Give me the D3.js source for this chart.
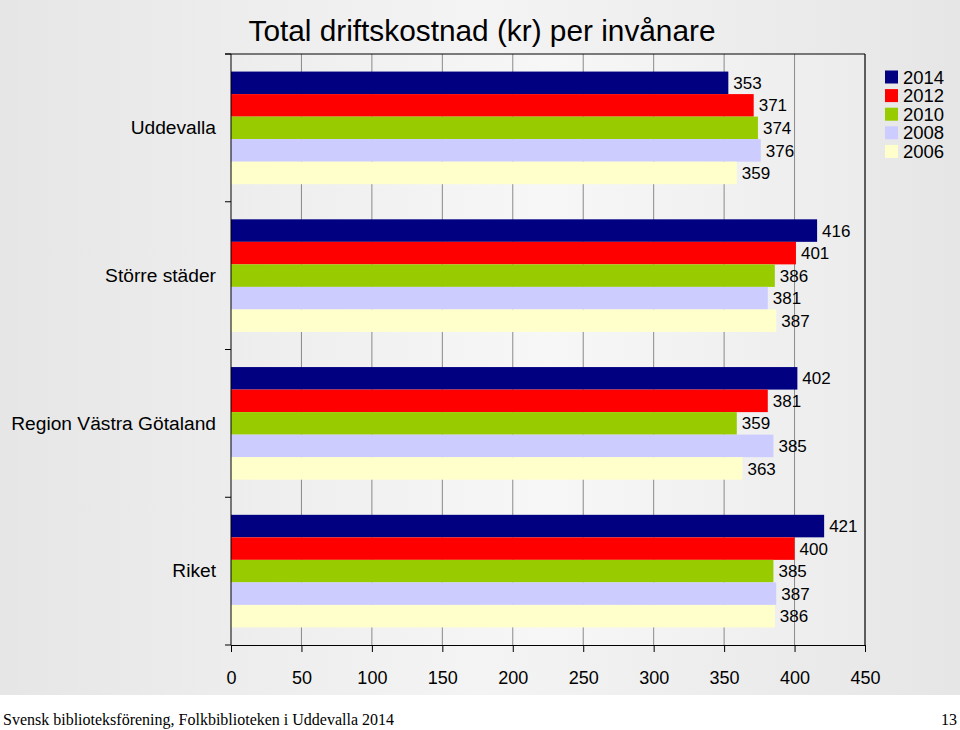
<!DOCTYPE html>
<html><head><meta charset="utf-8">
<script src="https://cdn.jsdelivr.net/npm/d3@7/dist/d3.min.js"></script>
<style>body{margin:0;background:#fff}svg{display:block}</style>
</head><body>
<svg id="c" width="960" height="730"></svg>
<script>
const categories = ["Uddevalla", "Större städer", "Region Västra Götaland", "Riket"];
const years = ["2014", "2012", "2010", "2008", "2006"];
const colors = ["#000080", "#ff0000", "#99cc00", "#ccccff", "#ffffcc"];
const v2014 = [353, 416, 402, 421];
const v2012 = [371, 401, 381, 400];
const v2010 = [374, 386, 359, 385];
const v2008 = [376, 381, 385, 387];
const v2006 = [359, 387, 363, 386];
const xTicks = [0, 50, 100, 150, 200, 250, 300, 350, 400, 450];
const title = "Total driftskostnad (kr) per invånare";
const footerLeft = "Svensk biblioteksförening, Folkbiblioteken i Uddevalla 2014";
const footerRight = "13";

const series = [v2014, v2012, v2010, v2008, v2006];
const svg = d3.select("#c");
const defs = svg.append("defs");
const bg = defs.append("linearGradient").attr("id", "bg").attr("x1", 0).attr("x2", 1).attr("y1", 0).attr("y2", 0);
bg.append("stop").attr("offset", "0%").attr("stop-color", "#e6e6e6");
bg.append("stop").attr("offset", "50%").attr("stop-color", "#f4f4f4");
bg.append("stop").attr("offset", "100%").attr("stop-color", "#e6e6e6");
const pg = defs.append("linearGradient").attr("id", "pg").attr("x1", 0).attr("x2", 1).attr("y1", 0).attr("y2", 0);
pg.append("stop").attr("offset", "0%").attr("stop-color", "#ededed");
pg.append("stop").attr("offset", "50%").attr("stop-color", "#f7f7f7");
pg.append("stop").attr("offset", "100%").attr("stop-color", "#ececec");

svg.append("rect").attr("x", 0).attr("y", 0).attr("width", 960).attr("height", 695).attr("fill", "url(#bg)");

const L = 231, R = 865, T = 54, B = 645;
const x = d3.scaleLinear().domain([0, 450]).range([L, R]);
const y0 = d3.scaleBand().domain(categories).range([T, B]).paddingInner(0).paddingOuter(0);
const y1 = d3.scaleBand().domain(years).range([0, y0.bandwidth()]).paddingInner(0).paddingOuter(0.78);

svg.append("rect").attr("x", L).attr("y", T).attr("width", R - L).attr("height", B - T).attr("fill", "url(#pg)");

// gridlines
svg.append("g").selectAll("line").data(xTicks.slice(1)).join("line")
  .attr("x1", d => x(d)).attr("x2", d => x(d)).attr("y1", T).attr("y2", B)
  .attr("stroke", "#8a8a8a").attr("stroke-width", 1);

// bars
const g = svg.append("g");
categories.forEach((c, ci) => {
  years.forEach((yr, si) => {
    const val = series[si][ci];
    g.append("rect").attr("x", x(0)).attr("y", y0(c) + y1(yr))
      .attr("width", x(val) - x(0)).attr("height", y1.bandwidth())
      .attr("fill", colors[si]);
    g.append("text").attr("x", x(val) + 5).attr("y", y0(c) + y1(yr) + y1.bandwidth() / 2)
      .attr("dy", "0.36em").attr("font-family", "Liberation Sans, Arial, sans-serif")
      .attr("font-size", 17).attr("fill", "#000").text(val);
  });
});

// plot border top/right
svg.append("line").attr("x1", L - 6).attr("x2", R).attr("y1", T).attr("y2", T).attr("stroke", "#000");
svg.append("line").attr("x1", R).attr("x2", R).attr("y1", T).attr("y2", B).attr("stroke", "#000");

// x axis
const xa = svg.append("g").attr("transform", `translate(0,${B})`)
  .call(d3.axisBottom(x).tickValues(xTicks).tickSize(7).tickSizeOuter(0).tickPadding(19));
xa.select(".domain").attr("stroke", "#000");
xa.selectAll(".tick line").attr("stroke", "#000");
xa.selectAll("text").attr("font-family", "Liberation Sans, Arial, sans-serif").attr("font-size", 18).attr("fill", "#000");

// y axis
const ya = svg.append("g").attr("transform", `translate(${L},0)`)
  .call(d3.axisLeft(y0).tickSize(0).tickPadding(15));
ya.select(".domain").attr("stroke", "#000").attr("d", `M0,${T}V${B}`);
ya.selectAll("text").attr("font-family", "Liberation Sans, Arial, sans-serif").attr("font-size", 19.2).attr("fill", "#000");
// category boundary ticks
const bounds = categories.map(c => y0(c)).concat([B]);
svg.append("g").selectAll("line").data(bounds).join("line")
  .attr("x1", L - 6).attr("x2", L).attr("y1", d => d).attr("y2", d => d).attr("stroke", "#000");

// title
svg.append("text").attr("x", 482).attr("y", 41).attr("text-anchor", "middle")
  .attr("font-family", "Liberation Sans, Arial, sans-serif").attr("font-size", 29.8).attr("fill", "#000").text(title);

// legend
const lg = svg.append("g");
years.forEach((yr, i) => {
  const cy = 77 + i * 18.6;
  lg.append("rect").attr("x", 885).attr("y", cy - 6.5).attr("width", 13).attr("height", 13).attr("fill", colors[i]);
  lg.append("text").attr("x", 903).attr("y", cy).attr("dy", "0.36em")
    .attr("font-family", "Liberation Sans, Arial, sans-serif").attr("font-size", 18.5).attr("fill", "#000").text(yr);
});

// footer
svg.append("text").attr("x", 3).attr("y", 725).attr("font-family", "Liberation Serif, Times New Roman, serif")
  .attr("font-size", 16).attr("fill", "#000").text(footerLeft);
svg.append("text").attr("x", 957).attr("y", 725).attr("text-anchor", "end").attr("font-family", "Liberation Serif, Times New Roman, serif")
  .attr("font-size", 16).attr("fill", "#000").text(footerRight);
</script>
</body></html>
